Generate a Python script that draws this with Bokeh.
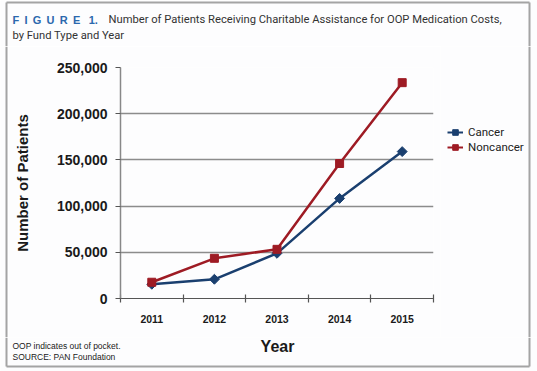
import math
from bokeh.plotting import figure
from bokeh.layouts import column, row
from bokeh.models import (Range1d, FixedTicker, NumeralTickFormatter, Label, Legend,
                          LegendItem)
from bokeh.embed import file_html
from bokeh.resources import INLINE

# ---- data ----
years = ["2011", "2012", "2013", "2014", "2015"]
cancer = [15400, 20800, 48900, 108300, 159000]
noncancer = [17600, 43500, 53200, 146100, 233600]
y_ticks = [0, 50000, 100000, 150000, 200000, 250000]
series_names = ["Cancer", "Noncancer"]

xpos = [i + 0.5 for i in range(len(years))]

FONT = "Liberation Sans"
TFONT = "Roboto"
BLUE = "#1a3f6f"
RED = "#9e1b24"
GRID = "#8c8c8c"
BG = "#fdfdfe"
FRAME = "#a4a4a4"

W, H = 537, 371
HEAD_H = 46
FOOT_H = 34
MID_H = H - HEAD_H - FOOT_H
STRIP_W = 8
MAIN_W = 432
LEG_W = W - STRIP_W - MAIN_W
NB = "\u00a0"
TH = "\u2009"


def blank(width, height, x_end, y_start, y_end):
    f = figure(width=width, height=height, output_backend="svg", toolbar_location=None,
               x_range=Range1d(0, x_end), y_range=Range1d(y_start, y_end),
               min_border=0, background_fill_color=BG, border_fill_color=BG,
               outline_line_color=None, frame_align=False)
    f.axis.visible = False
    f.grid.visible = False
    return f


def add_label(f, txt, x, y, size, color="#2a2a2a", bold=False, font=FONT, align="left"):
    f.add_layout(Label(x=x, y=y, text=txt, text_font=font, text_font_size=size,
                       text_color=color, text_font_style="bold" if bold else "normal",
                       text_baseline="middle", text_align=align))


# ---- header ----
h = blank(W, HEAD_H, W, HEAD_H, 0)
fig_word = (NB + TH).join("FIGURE") + NB + NB + TH + "1."
add_label(h, fig_word, 12, 19, "11px", color="#2b68ad", bold=True)
add_label(h, "Number of Patients Receiving Charitable Assistance for OOP Medication Costs,",
          108, 19, "11.2px", color="#333333", font=TFONT)
add_label(h, "by Fund Type and Year", 12, 35, "11.2px", color="#333333", font=TFONT)
h.segment(x0=[6, 6, 529], y0=[2, 2, 2], x1=[529, 6, 529], y1=[2, HEAD_H, HEAD_H],
          line_color=FRAME, line_width=2)

# ---- left strip (frame line) ----
s = blank(STRIP_W, MID_H, STRIP_W, 0, MID_H)
s.segment(x0=[6], y0=[0], x1=[6], y1=[MID_H], line_color=FRAME, line_width=2)

# ---- main chart ----
p = figure(width=MAIN_W, height=MID_H, output_backend="svg", toolbar_location=None,
           x_range=Range1d(0, 5), y_range=Range1d(0, 250000),
           min_border_left=112, min_border_top=67 - HEAD_H, min_border_right=7,
           min_border_bottom=HEAD_H + MID_H - 298, frame_align=False,
           background_fill_color=BG, border_fill_color=BG, outline_line_color=None)

p.xaxis.ticker = FixedTicker(ticks=xpos, minor_ticks=list(range(6)))
p.xaxis.major_label_overrides = {x: y for x, y in zip(xpos, years)}
p.xaxis.major_tick_line_color = None
p.xaxis.major_tick_out = 0
p.xaxis.major_tick_in = 0
p.xaxis.minor_tick_line_color = "#555555"
p.xaxis.minor_tick_in = 4
p.xaxis.minor_tick_out = 4
p.xaxis.minor_tick_line_width = 1.2
p.xaxis.axis_line_color = "#555555"
p.xaxis.axis_line_width = 1.2
p.xaxis.major_label_text_font = FONT
p.xaxis.major_label_text_font_style = "bold"
p.xaxis.major_label_text_font_size = "10.5px"
p.xaxis.major_label_text_color = "#1a1a1a"
p.xaxis.major_label_standoff = 12

p.yaxis.ticker = FixedTicker(ticks=y_ticks)
p.yaxis.formatter = NumeralTickFormatter(format="0,0")
p.yaxis.minor_tick_line_color = None
p.yaxis.major_tick_in = 0
p.yaxis.major_tick_out = 5
p.yaxis.major_tick_line_color = "#555555"
p.yaxis.axis_line_color = "#888888"
p.yaxis.axis_line_width = 1.5
p.yaxis.major_label_text_font = FONT
p.yaxis.major_label_text_font_style = "bold"
p.yaxis.major_label_text_font_size = "14px"
p.yaxis.major_label_text_color = "#1a1a1a"
p.yaxis.major_label_standoff = 8
p.yaxis.axis_label = "Number of Patients"
p.yaxis.axis_label_text_font = FONT
p.yaxis.axis_label_text_font_style = "bold"
p.yaxis.axis_label_text_font_size = "15px"
p.yaxis.axis_label_text_color = "#1a1a1a"
p.yaxis.axis_label_standoff = 23

p.xgrid.grid_line_color = None
p.ygrid.ticker = FixedTicker(ticks=y_ticks)
p.ygrid.grid_line_color = GRID
p.ygrid.grid_line_width = 1.5

p.line(xpos, cancer, line_color=BLUE, line_width=2.5)
p.scatter(xpos, cancer, marker="square", angle=math.pi / 4, size=7,
          fill_color=BLUE, line_color=BLUE)
p.line(xpos, noncancer, line_color=RED, line_width=2.5)
p.scatter(xpos, noncancer, marker="square", size=8, fill_color=RED, line_color=RED)

# ---- legend panel (right of the chart) ----
# the series are re-drawn here only to feed the legend; their values lie far
# above this panel's own y range, so nothing but the legend shows.
g = blank(LEG_W, MID_H, LEG_W, 0, MID_H)
g.segment(x0=[529 - STRIP_W - MAIN_W], y0=[0], x1=[529 - STRIP_W - MAIN_W], y1=[MID_H],
          line_color=FRAME, line_width=2)
gl_c = g.line(xpos, cancer, line_color=BLUE, line_width=2)
gm_c = g.scatter(xpos, cancer, marker="square", angle=math.pi / 4, size=5,
                 fill_color=BLUE, line_color=BLUE)
gl_n = g.line(xpos, noncancer, line_color=RED, line_width=2)
gm_n = g.scatter(xpos, noncancer, marker="square", size=6, fill_color=RED, line_color=RED)
legend = Legend(items=[LegendItem(label=series_names[0], renderers=[gl_c, gm_c]),
                       LegendItem(label=series_names[1], renderers=[gl_n, gm_n])],
                location=(447 - STRIP_W - MAIN_W, HEAD_H + MID_H - 154),
                padding=0, margin=0, spacing=1,
                glyph_width=16, glyph_height=14, label_standoff=5,
                border_line_color=None, background_fill_alpha=0,
                label_text_font=TFONT, label_text_font_size="11.5px",
                label_text_color="#222222")
g.add_layout(legend, "center")

# ---- footer ----
ft = blank(W, FOOT_H, W, FOOT_H, 0)
add_label(ft, "Year", 277, 346 - 337, "16px", color="#1a1a1a", bold=True, align="center")
add_label(ft, "OOP indicates out of pocket.", 12, 345 - 337, "8.5px", color="#1a1a1a")
add_label(ft, "SOURCE: PAN Foundation", 12, 356 - 337, "8.5px", color="#1a1a1a")
ft.segment(x0=[6, 6, 529], y0=[366 - 337, 0, 0], x1=[529, 6, 529],
           y1=[366 - 337, 366 - 337, 366 - 337], line_color=FRAME, line_width=2)

layout = column(h, row(s, p, g, spacing=0), ft, spacing=0)

open("out.html", "w").write(file_html(layout, INLINE))
